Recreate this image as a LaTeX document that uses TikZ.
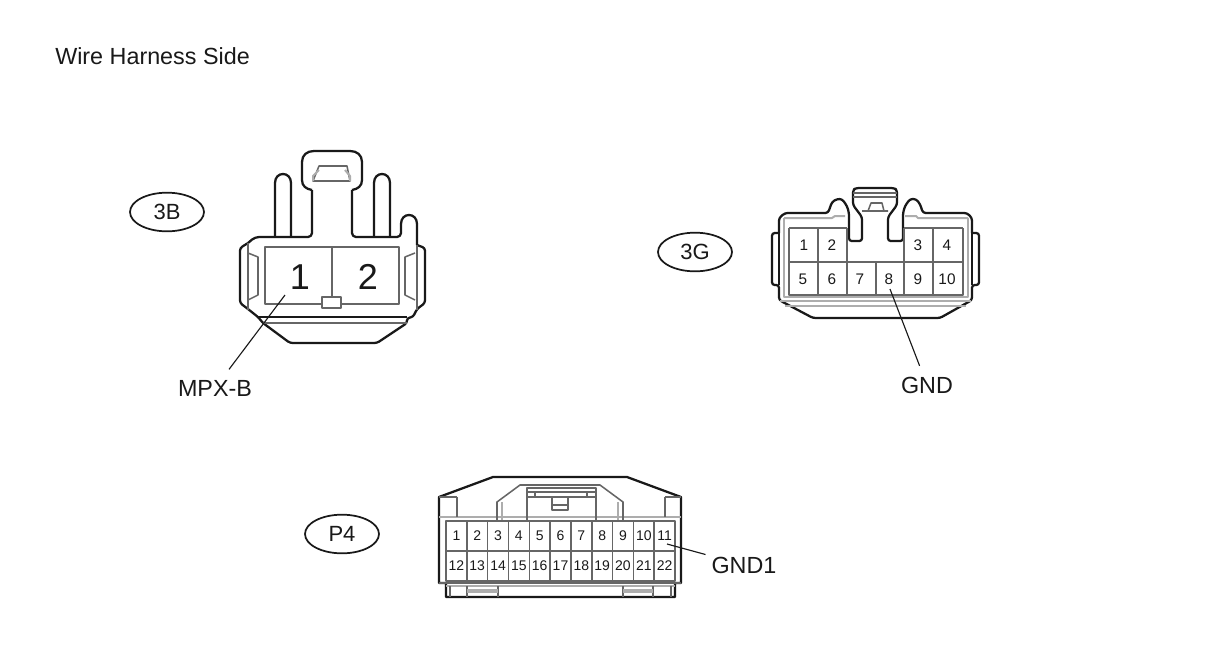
\documentclass[tikz,border=0pt]{standalone}
\usepackage{fontspec}
\setmainfont{Liberation Sans}
\usetikzlibrary{shapes.geometric,calc}
\definecolor{ink}{gray}{0.10}
\definecolor{mid}{gray}{0.40}
\definecolor{soft}{gray}{0.68}
\tikzset{
  outline/.style={draw=ink,line width=1.7pt,line join=round},
  inner/.style={draw=mid,line width=1.15pt,line join=round},
  faint/.style={draw=soft,line width=1.5pt,line join=round},
  leader/.style={draw=ink,line width=0.85pt},
  tag/.style={draw=ink,line width=1.3pt,ellipse,minimum width=55.5pt,minimum height=29pt,inner sep=0pt,font=\fontsize{16.5}{18}\selectfont,text=ink},
  lbl/.style={font=\fontsize{17.5}{19}\selectfont,text=ink,inner sep=0pt},
  bigpin/.style={font=\fontsize{27}{29}\selectfont,text=ink,inner sep=0pt},
  midpin/.style={font=\fontsize{11.5}{13}\selectfont,text=ink,inner sep=0pt},
  smallpin/.style={font=\fontsize{10.5}{12}\selectfont,text=ink,inner sep=0pt},
}
\begin{document}
\begin{tikzpicture}[x=0.75pt,y=-0.75pt]
\useasboundingbox (0,0) rectangle (1208,644);
\fill[white] (0,0) rectangle (1208,644);
\node[lbl,anchor=west] (title) at (55,56) {Wire Harness Side};

% ---------- 3B
\node[tag] (tagB) at (167,212) {3B};
\draw[outline,rounded corners=3pt] (248,243) -- (255,237) -- (312,237) -- (312,190);
\draw[outline] (312,190) .. controls (306,189) and (302,186) .. (302,180) -- (302,162)
  .. controls (302,155) and (307,151) .. (314,151) -- (350,151)
  .. controls (357,151) and (362,155) .. (362,162) -- (362,180)
  .. controls (362,186) and (358,189) .. (352,190);
\draw[outline,rounded corners=3pt] (352,190) -- (352,237) -- (401,237) -- (401,224);
\draw[outline] (401,224) .. controls (401,212) and (417,212) .. (417,224) -- (417,245);
\draw[outline,rounded corners=2pt] (417,245) -- (425,248) -- (425,303) -- (417,309) -- (413,317) -- (407,318) -- (407,323) -- (377,343) -- (290,343) -- (263,323) -- (258,317) -- (248,309) -- (240,303) -- (240,248) -- (248,243);
\draw[outline] (258,317) -- (407,317);
\draw[outline] (275,237) -- (275,183) .. controls (275,171) and (291,171) .. (291,183) -- (291,237);
\draw[outline] (374,237) -- (374,183) .. controls (374,171) and (390,171) .. (390,183) -- (390,237);
\draw[inner] (263,323) -- (407,323);
\draw[inner] (265,247) rectangle (399,304);
\draw[inner] (332,247) -- (332,297);
\draw[inner,fill=white] (322,297) rectangle (341,308);
\draw[inner] (313,181) -- (350,181) -- (347,166) -- (319,166) -- cycle;
\draw[faint] (313,181) -- (313,176) -- (319,170) (350,181) -- (350,176) -- (345,170);
\draw[inner] (248,253) -- (258,257) -- (258,295) -- (248,300);
\draw[inner] (415,253) -- (405,257) -- (405,295) -- (415,300);
\draw[inner] (248,243) -- (248,310) (417,245) -- (417,310);
\node[bigpin] (b1) at (300,277) {1};
\node[bigpin] (b2) at (368,277) {2};
\coordinate (pinB) at (285,295);
\node[lbl] (mpx) at (215,388) {MPX-B};
\draw[leader] (pinB) -- ($(pinB)!0.8!(mpx)$);

% ---------- 3G
\node[tag] (tagG) at (695,252) {3G};
\draw[outline,rounded corners=2pt] (779,233) -- (779,218) -- (785,213) -- (828,213)
  -- (832,202) -- (837,199) -- (842,199) -- (847,206) -- (849,213) -- (849,241) -- (862,241) -- (862,217)
  -- (853,205) -- (853,190) -- (856,188) -- (894,188) -- (897,190) -- (897,205) -- (888,217) -- (888,241)
  -- (903,241) -- (903,213) -- (905,206) -- (910,199) -- (916,199) -- (920,204) -- (923,213) -- (967,213) -- (972,218) -- (972,233);
\draw[outline,rounded corners=2pt] (972,233) -- (979,233) -- (979,285) -- (972,285) -- (972,300) -- (940,318) -- (813,318) -- (779,300) -- (779,285) -- (772,285) -- (772,233) -- (779,233);
\draw[outline] (779,233) -- (779,285) (972,233) -- (972,285);
\draw[faint] (784,218) -- (832,218) -- (835,216) -- (845,216) (968,218) -- (918,218) -- (916,216) -- (905,216);
\draw[faint] (784,218) -- (784,297) -- (968,297) -- (968,218);
\draw[faint] (780,301) -- (971,301) (785,306) -- (966,306);
\draw[inner] (789,228) -- (847,228) (904,228) -- (963,228);
\draw[inner] (789,228) -- (789,295) -- (963,295) -- (963,228);
\draw[inner] (847,228) -- (847,295) (904,228) -- (904,295);
\draw[inner] (789,262) -- (963,262);
\draw[inner] (818,228) -- (818,295) (933,228) -- (933,295) (876,262) -- (876,295);
\draw[inner] (862,211) -- (888,211) (868,211) -- (871,203) -- (882,203) -- (884,211);
\draw[inner] (853,193) -- (897,193) (853,197) -- (897,197);
\node[midpin] (g1) at (804,245) {1};
\node[midpin] (g2) at (832,245) {2};
\node[midpin] (g3) at (918,245) {3};
\node[midpin] (g4) at (947,245) {4};
\node[midpin] (g5) at (803,279) {5};
\node[midpin] (g6) at (832,279) {6};
\node[midpin] (g7) at (860,279) {7};
\node[midpin] (g8) at (889,279) {8};
\node[midpin] (g9) at (918,279) {9};
\node[midpin] (g10) at (947,279) {10};
\coordinate (pinG) at (890,289);
\node[lbl] (gnd) at (927,385) {GND};
\draw[leader] (pinG) -- ($(pinG)!0.8!(gnd)$);

% ---------- P4
\node[tag] (tagP) at (342,534) {P4};
\draw[outline] (439,497) -- (493,477) -- (627,477) -- (681,497) -- (681,583) -- (675,583) -- (675,597) -- (446,597) -- (446,583) -- (439,583) -- cycle;
\draw[inner] (439,583) -- (681,583);
\draw[faint] (439,517) -- (681,517);
\draw[faint] (446,586) -- (675,586);
\draw[inner] (457,497) -- (457,517) (665,497) -- (665,517) (439,497) -- (457,497) (665,497) -- (681,497);
\draw[inner] (497,521) -- (497,502) -- (520,485) -- (600,485) -- (623,502) -- (623,521);
\draw[faint] (502,521) -- (502,502) (618,521) -- (618,502);
\draw[inner] (527,521) -- (527,488) -- (596,488) -- (596,521);
\draw[inner] (527,492) -- (596,492) (527,497) -- (596,497) (535,492) -- (535,497) (587,492) -- (587,497);
\draw[inner] (552,498) -- (552,510) -- (568,510) -- (568,498) (552,505) -- (568,505);
\draw[inner] (446,521) rectangle (675,581);
\draw[inner] (446,551) -- (675,551);
\foreach \k in {1,...,10} { \draw[inner] ({446+\k*20.82},521) -- ({446+\k*20.82},581); }
\foreach \k [evaluate=\k as \cx using {446+(\k-0.5)*20.82}] in {1,...,11} {
  \node[smallpin] (p\k) at (\cx,536) {\k};
}
\foreach \k [evaluate=\k as \cx using {446+(\k-11.5)*20.82}] in {12,...,22} {
  \node[smallpin] (p\k) at (\cx,566) {\k};
}
\draw[inner] (450,586) -- (450,597) (671,586) -- (671,597);
\draw[inner] (467,586) -- (467,597) (498,586) -- (498,597) (623,586) -- (623,597) (653,586) -- (653,597);
\draw[faint,line width=2.5pt] (467,591) -- (498,591) (623,591) -- (653,591);
\coordinate (pinP) at (667,544);
\node[lbl] (gnd1) at (744,565) {GND1};
\draw[leader] (pinP) -- ($(pinP)!0.5!(gnd1)$);
\end{tikzpicture}
\end{document}
